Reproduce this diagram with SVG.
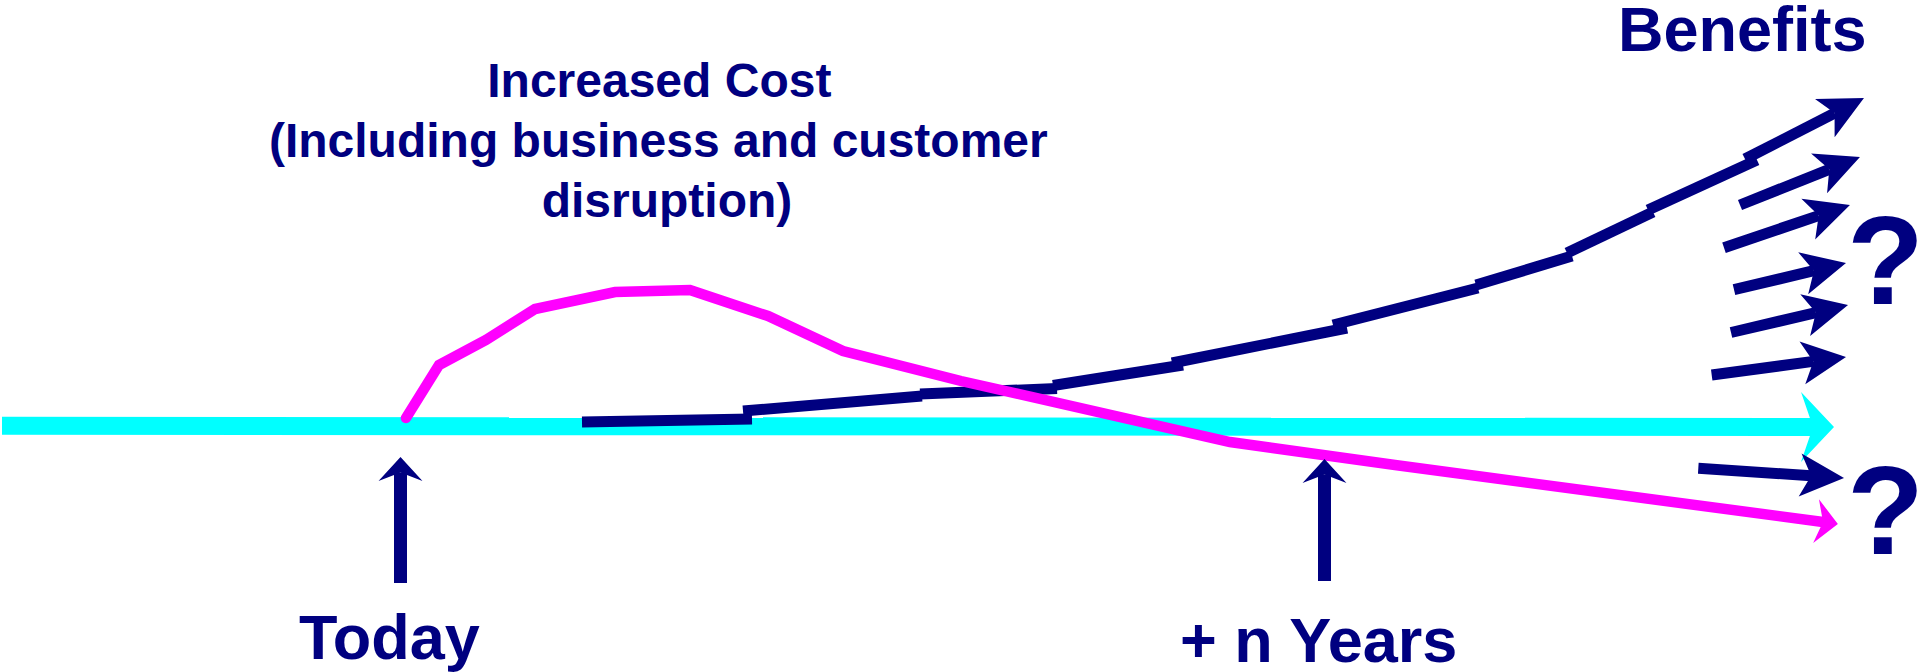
<svg xmlns="http://www.w3.org/2000/svg" width="1919" height="672" viewBox="0 0 1919 672">
  <style>
    .lbl { font-family: "Liberation Sans", Arial, sans-serif; font-weight: bold; fill: #000080; }
    .navy { fill: none; stroke: #000080; stroke-width: 11; stroke-linecap: butt; }
    .cyan { fill: none; stroke: #00FFFF; stroke-width: 18; stroke-linecap: butt; }
    .mag { fill: none; stroke: #FF00FF; stroke-width: 10.5; stroke-linejoin: miter; stroke-linecap: round; }
    .mark { stroke-width: 13; }
  </style>
  <defs>
    <!-- notched arrowheads; each line ends at the notch (refX) -->
    <marker id="head-navy" viewBox="0 -30 50 60" markerWidth="50" markerHeight="60" refX="11" refY="0" markerUnits="userSpaceOnUse" orient="auto" overflow="visible">
      <path d="M44,0 L0,-21.5 L11,0 L0,21.5 Z" fill="#000080"/>
    </marker>
    <marker id="head-up" viewBox="0 -30 30 60" markerWidth="30" markerHeight="60" refX="8.5" refY="0" markerUnits="userSpaceOnUse" orient="auto" overflow="visible">
      <path d="M24,0 L0,-22 L8.5,0 L0,22 Z" fill="#000080"/>
    </marker>
    <marker id="head-cyan" viewBox="0 -40 40 80" markerWidth="40" markerHeight="80" refX="12" refY="0" markerUnits="userSpaceOnUse" orient="auto" overflow="visible">
      <path d="M33,0 L0,-35 L12,0 L0,35 Z" fill="#00FFFF"/>
    </marker>
    <marker id="head-mag" viewBox="0 -30 30 60" markerWidth="30" markerHeight="60" refX="7" refY="0" markerUnits="userSpaceOnUse" orient="auto" overflow="visible">
      <path d="M22,0 L0,-22 L7,0 L0,22 Z" fill="#FF00FF"/>
    </marker>
  </defs>

  <rect width="1919" height="672" fill="#FFFFFF"/>

  <!-- time axis -->
  <g id="timeline">
    <line class="cyan" x1="2" y1="425.8" x2="1813" y2="427" marker-end="url(#head-cyan)"/>
  </g>

  <!-- benefits curve, drawn as slightly stepped segments -->
  <g id="benefits">
    <line class="navy" x1="582" y1="422" x2="752" y2="419"/>
    <line class="navy" x1="743" y1="411" x2="922" y2="396"/>
    <line class="navy" x1="920" y1="394" x2="1057" y2="388.5"/>
    <line class="navy" x1="1053" y1="385.5" x2="1183" y2="365"/>
    <line class="navy" x1="1172" y1="363" x2="1347" y2="328"/>
    <line class="navy" x1="1333" y1="325" x2="1478" y2="288"/>
    <line class="navy" x1="1476" y1="285" x2="1572" y2="256"/>
    <line class="navy" x1="1567" y1="253" x2="1653" y2="212"/>
    <line class="navy" x1="1648" y1="210" x2="1757" y2="160"/>
    <line class="navy" x1="1745" y1="159" x2="1834.6" y2="113.1" marker-end="url(#head-navy)"/>
  </g>

  <!-- spread of possible outcomes -->
  <g id="outcomes">
    <line class="navy" x1="1740" y1="205" x2="1829.3" y2="169.3" marker-end="url(#head-navy)"/>
    <line class="navy" x1="1724" y1="247.7" x2="1818.7" y2="215.6" marker-end="url(#head-navy)"/>
    <line class="navy" x1="1734" y1="289.7" x2="1813.9" y2="270.7" marker-end="url(#head-navy)"/>
    <line class="navy" x1="1731" y1="332.5" x2="1815.9" y2="312.6" marker-end="url(#head-navy)"/>
    <line class="navy" x1="1711.7" y1="375" x2="1813.3" y2="361.4" marker-end="url(#head-navy)"/>
    <line class="navy" x1="1698.3" y1="468.3" x2="1811.1" y2="475.8" marker-end="url(#head-navy)"/>
  </g>

  <!-- cost curve -->
  <g id="cost">
    <polyline class="mag" points="406,418 439,365 486,340 535,309 615,292 690,290 768,316 843,351 961,381 1230,442 1395,465 1823,522" marker-end="url(#head-mag)"/>
  </g>

  <!-- time markers -->
  <g id="today">
    <line class="navy mark" x1="400.5" y1="583" x2="400.5" y2="472.5" marker-end="url(#head-up)"/>
    <text class="lbl" x="299" y="659" font-size="63">Today</text>
  </g>
  <g id="n-years">
    <line class="navy mark" x1="1324.5" y1="581" x2="1324.5" y2="474.5" marker-end="url(#head-up)"/>
    <text class="lbl" x="1180" y="662" font-size="63">+ n Years</text>
  </g>

  <!-- annotations -->
  <g id="cost-label">
    <text class="lbl" font-size="48" text-anchor="middle">
      <tspan x="666" y="97">Increased Cost</tspan>
      <tspan x="665" y="157">(Including business and customer</tspan>
      <tspan x="667" y="217">disruption)</tspan>
    </text>
  </g>
  <g id="benefits-label">
    <text class="lbl" x="1618" y="51" font-size="63">Benefits</text>
  </g>
  <g id="unknowns">
    <text class="lbl" x="1847" y="304" font-size="126">?</text>
    <text class="lbl" x="1847" y="554" font-size="126">?</text>
  </g>
</svg>
